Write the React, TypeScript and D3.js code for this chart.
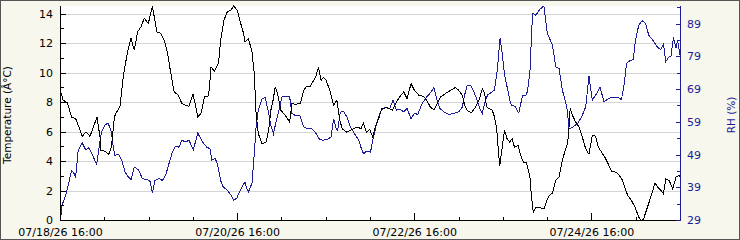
import React from "react";
import * as d3 from "d3";

// Hours since 07/18/26 16:00 and values
const tempHours = [0,0.7,1.9,3.0,4.1,5.0,5.9,6.9,8.0,8.9,9.9,10.7,10.9,12.0,13.1,13.8,14.6,15.2,16.1,17.0,17.6,18.2,19.1,20.0,20.9,21.8,22.7,23.8,24.9,25.4,26.1,27.2,28.1,29.0,29.9,30.8,31.9,32.9,33.9,34.8,35.9,36.5,37.2,38.1,39.0,39.9,40.3,40.8,41.7,42.8,43.4,44.3,45.2,46.2,46.9,47.9,48.7,49.6,50.0,50.9,51.9,52.5,53.0,53.6,54.6,55.7,56.4,57.0,57.6,58.2,58.8,59.7,60.9,62.1,62.7,63.6,65.0,65.9,66.6,67.7,68.6,69.3,69.9,70.6,71.3,72.0,73.1,74.0,74.9,75.6,76.3,77.5,78.5,79.4,80.5,81.4,82.1,82.9,83.8,84.6,85.3,86.2,87.1,88.5,89.9,90.8,91.9,93.0,93.9,95.0,95.9,97.1,98.3,99.2,100.1,101.2,102.1,103.0,104.3,105.7,107.0,107.9,108.9,109.5,110.2,111.3,112.5,113.4,114.3,114.9,115.5,116.1,117.0,117.6,118.2,118.5,119.0,119.7,120.3,121.0,121.7,122.4,123.0,124.0,124.7,125.4,126.3,127.2,127.6,128.1,128.8,129.9,131.0,131.8,132.4,133.3,134.2,135.1,135.8,136.6,137.4,137.8,138.1,138.7,139.6,140.5,141.4,142.3,143.2,144.1,145.0,145.7,146.6,147.5,148.4,149.3,150.5,151.4,152.3,152.9,153.7,154.6,155.7,156.6,157.3,158.0,158.9,160.0,161.1,161.8,162.7,163.4,164.0,164.9,165.9,166.8,167.7,168.0];
const tempValues = [8.8,8.16,7.97,7.02,6.91,6.34,5.71,6.0,5.71,6.34,7.02,5.66,4.76,4.71,4.49,4.98,7.02,7.36,7.7,9.74,10.65,11.44,12.35,11.55,12.8,13.14,13.71,13.37,14.55,13.82,12.8,12.69,12.23,11.33,9.97,8.72,8.5,7.93,7.82,7.75,8.56,7.93,7.02,7.29,8.38,8.38,8.83,10.42,10.1,10.65,12.23,13.59,14.16,14.27,14.55,14.27,13.48,12.69,12.12,12.35,11.44,9.97,7.25,5.89,5.21,5.32,6.12,7.48,8.16,9.06,8.61,7.48,7.14,6.68,7.93,7.88,7.93,8.83,9.06,9.11,9.51,9.85,10.42,9.51,9.7,9.51,8.72,7.82,8.16,6.91,6.23,6.0,6.12,6.23,6.34,6.23,6.61,6.0,6.16,5.66,6.34,6.91,7.59,7.66,7.48,7.93,8.38,8.72,8.27,9.29,8.83,8.5,8.43,8.16,7.75,7.48,7.93,8.38,8.61,8.83,9.02,8.83,8.5,7.82,7.48,7.29,7.7,8.16,8.95,8.61,7.7,7.59,7.48,7.02,6.2,5.21,3.67,4.98,6.12,5.55,5.32,5.55,4.98,5.1,4.42,3.96,3.9,2.94,1.7,0.56,0.9,0.86,0.79,1.36,1.7,1.86,2.72,2.94,3.85,4.64,5.21,6.34,7.59,7.14,6.68,6.34,5.66,4.87,4.49,5.78,5.71,4.98,4.64,4.3,3.85,3.35,3.28,3.06,2.72,2.26,1.7,1.4,0.9,0.27,0,0.11,0.79,1.63,2.54,2.26,2.04,1.81,2.83,2.72,2.15,2.94,3.06,2.83];

const rhHours = [0,0.4,1.2,1.9,3.0,3.7,4.1,4.8,5.9,6.8,7.7,8.6,9.8,10.4,11.1,12.0,12.9,13.8,14.3,14.7,15.8,16.6,17.5,18.4,19.1,20.0,21.1,22.2,23.3,24.2,24.9,25.6,26.7,27.6,28.5,29.4,30.3,31.2,32.1,32.9,33.9,34.8,36.0,37.2,38.3,39.6,40.5,41.0,41.9,42.5,43.4,44.1,45.1,46.2,46.9,47.8,48.7,49.6,50.0,50.5,50.9,51.9,52.5,53.0,53.6,54.6,55.5,56.4,57.0,57.7,58.5,59.4,60.0,61.2,62.1,62.7,63.6,64.8,65.9,66.8,68.1,69.3,70.2,71.3,72.7,73.3,74.0,74.7,75.1,75.8,76.7,77.6,78.5,79.4,80.8,81.4,82.1,83.0,84.0,84.9,85.9,86.9,88.0,89.2,90.1,91.0,92.1,93.0,93.9,95.0,95.9,96.8,98.0,99.2,100.1,101.2,101.9,102.8,103.9,105.2,106.6,107.9,108.9,109.5,110.2,111.1,112.0,112.9,113.8,114.3,114.9,115.7,116.6,117.6,118.4,119.1,119.7,120.3,121.2,121.8,122.2,123.1,124.2,125.2,126.1,126.5,127.2,127.9,128.8,129.9,131.0,131.9,133.3,134.2,135.1,136.0,137.2,137.8,138.7,140.1,141.2,142.3,142.8,143.2,144.1,145.0,146.2,147.3,148.4,149.6,150.9,152.0,152.7,153.4,154.3,155.2,155.8,156.7,157.6,158.5,159.4,160.8,161.7,162.6,163.4,164.0,164.9,165.4,166.1,166.8,167.2,167.9,168.0];
const rhValues = [29,33.6,36.1,38.7,44.3,43.3,42.3,50.4,52.7,50.6,51.2,49.2,46.1,50.9,56,58.1,58.8,56,51.4,48.9,49.2,47.4,43.8,42.3,41.5,45.3,44.5,41.8,41.5,41.2,37.4,41.2,41.8,41.2,42.8,46.4,49.9,51.7,51.4,53.5,53,53.5,50.6,55.7,53.3,51.4,50.9,47.4,47.9,46.4,41.2,39.2,38.4,36.7,35.1,35.9,38.2,40.2,40.7,38.7,37.7,40.4,49.4,57.6,62.7,66.2,66.6,61.7,58.1,55.5,59.6,63.7,66.7,67,66.7,61.7,61.1,61.1,57.6,57.1,57.1,55.5,53.7,53.5,54,54.5,60.1,57.1,56.6,62,62.4,60.6,57.6,56,53.5,51.4,49.4,50.2,49.9,55,59.6,62.7,63.5,63.2,65.7,62.7,62.9,62.2,63.2,60.1,61.7,61.4,64.7,66.7,67.8,69.6,66.2,63.2,62.2,61.4,61.7,62.2,63.7,67.3,70.3,70.3,68.3,65.7,62.7,61.7,64.7,67.3,68,68.8,75.4,84.6,79.8,73.6,68.8,65.5,64.2,63.9,61.8,67.3,67.3,68.3,74.4,92.3,91.7,93.5,94.5,86.1,82.6,75.9,75.4,68.8,63.7,57.1,57.4,58.6,60.6,63.7,68.8,73.1,65.7,67.3,69.6,65.2,66.2,66.7,66.7,65.9,70.3,77,77.8,78.2,84.1,88.7,90,89.2,85.6,83.6,82,81.2,82.9,77.5,79,79,84.9,81.6,84.1,79.5,82];

const tempTicks = [0, 2, 4, 6, 8, 10, 12, 14];
const rhTicks = [29, 39, 49, 59, 69, 79, 89];
const xLabelHours = [0, 48, 96, 144];

const W = 740, H = 240;
const L = 60.5, R = 680.5, T = 6, B = 220.5;
const start = Date.UTC(2026, 6, 18, 16, 0);
const toDate = (h: number) => new Date(start + h * 3600000);
const BLUE = "#1c1c96";
const FONT = "DejaVu Sans, Verdana, sans-serif";

export default function App() {
  const x = d3.scaleUtc().domain([toDate(0), toDate(168)]).range([L, R]);
  const yT = d3.scaleLinear().domain([0, 14.55]).range([B, T]);
  const yR = d3.scaleLinear().domain([29, 94.5]).range([B, T]);
  const fmt = d3.utcFormat("%m/%d/%y %H:%M");

  const tempLine = d3.line<number>()
    .x((_, i) => x(toDate(tempHours[i])))
    .y((v) => yT(v));
  const rhLine = d3.line<number>()
    .x((_, i) => x(toDate(rhHours[i])))
    .y((v) => yR(v));

  const minorX = d3.range(0, 169, 12);
  const minorT = d3.range(1, 15, 2);
  const minorR = d3.range(34, 95, 10);
  const px = (v: number) => Math.round(v - 0.5) + 0.5;

  return (
    <svg width={W} height={H} style={{ position: "absolute", left: 0, top: 0 }} fontFamily={FONT} fontSize={11}>
      <rect x={0.5} y={0.5} width={W - 1} height={H - 1} fill="#f7f7ee" stroke="#555" />
      <rect x={L} y={T} width={R - L} height={B - T} fill="#ffffff" />
      {tempTicks.filter((t) => t > 0).map((t) => (
        <line key={"g" + t} x1={L} x2={R} y1={px(yT(t))} y2={px(yT(t))} stroke="#d4d4d4" shapeRendering="crispEdges" />
      ))}
      <path d={rhLine(rhValues) || ""} fill="none" stroke={BLUE} strokeWidth={1} shapeRendering="crispEdges" />
      <path d={tempLine(tempValues) || ""} fill="none" stroke="#000" strokeWidth={1} shapeRendering="crispEdges" />
      {/* left axis */}
      <line x1={L} x2={L} y1={T} y2={B} stroke="#000" shapeRendering="crispEdges" />
      {tempTicks.map((t) => (
        <g key={"lt" + t}>
          <line x1={L} x2={L + 5} y1={px(yT(t))} y2={px(yT(t))} stroke="#000" shapeRendering="crispEdges" />
          <text x={53} y={yT(t)} textAnchor="end" dominantBaseline="central" fill="#000">{t}</text>
        </g>
      ))}
      {minorT.map((t) => (
        <line key={"lm" + t} x1={L} x2={L + 3} y1={px(yT(t))} y2={px(yT(t))} stroke="#000" shapeRendering="crispEdges" />
      ))}
      <text transform={`translate(11,115) rotate(-90)`} textAnchor="middle" fill="#000" fontSize={10.5}>Temperature (Â°C)</text>
      {/* bottom axis */}
      <line x1={L} x2={R} y1={B} y2={B} stroke="#000" shapeRendering="crispEdges" />
      {minorX.map((h) => (
        <line key={"xm" + h} x1={px(x(toDate(h)))} x2={px(x(toDate(h)))} y1={B} y2={h % 48 === 0 ? B - 8 : B - 4} stroke="#000" shapeRendering="crispEdges" />
      ))}
      {xLabelHours.map((h) => (
        <text key={"xl" + h} x={x(toDate(h))} y={235.5} textAnchor="middle" fill="#000">{fmt(toDate(h))}</text>
      ))}
      {/* right axis */}
      <line x1={R} x2={R} y1={T} y2={B} stroke={BLUE} shapeRendering="crispEdges" />
      {rhTicks.map((t) => (
        <g key={"rt" + t}>
          <line x1={R - 5} x2={R} y1={px(yR(t))} y2={px(yR(t))} stroke={BLUE} shapeRendering="crispEdges" />
          <text x={687} y={yR(t)} dominantBaseline="central" fill={BLUE}>{t}</text>
        </g>
      ))}
      {minorR.map((t) => (
        <line key={"rm" + t} x1={R - 4} x2={R} y1={px(yR(t))} y2={px(yR(t))} stroke={BLUE} shapeRendering="crispEdges" />
      ))}
      <text transform={`translate(735,115) rotate(-90)`} textAnchor="middle" fill={BLUE} fontSize={10.5}>RH (%)</text>
    </svg>
  );
}
